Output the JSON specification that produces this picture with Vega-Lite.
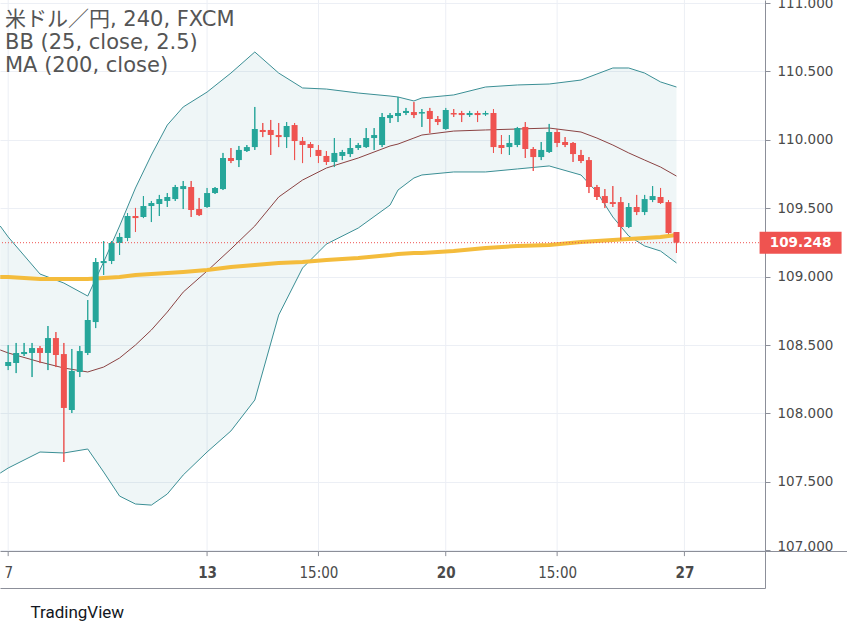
{
  "$schema": "https://vega.github.io/schema/vega-lite/v6.json",
  "width": 765,
  "height": 588,
  "autosize": {"type": "none"},
  "padding": {"left": 0, "top": 0, "right": 82, "bottom": 42},
  "background": "white",
  "title": {
    "text": ["米ドル／円, 240, FXCM", "BB (25, close, 2.5)", "MA (200, close)"],
    "anchor": "start", "frame": "group", "orient": "top",
    "offset": -80, "dx": 5,
    "font": "DejaVu Sans, Noto Sans CJK JP", "fontSize": 21, "fontWeight": "normal",
    "color": "#555555", "lineHeight": 23
  },
  "datasets": {
    "gridx": [{"t": 0}, {"t": 25}, {"t": 39}, {"t": 55}, {"t": 69}, {"t": 85}],
    "last": [{"price": 109.248}],
    "bands": [
      {"i": -1, "upper": 109.370, "mid": 108.464, "lower": 107.564, "ma": 108.997},
      {"i": 0, "upper": 109.290, "mid": 108.442, "lower": 107.601, "ma": 108.997},
      {"i": 4, "upper": 109.019, "mid": 108.376, "lower": 107.718, "ma": 108.983},
      {"i": 7, "upper": 108.953, "mid": 108.332, "lower": 107.711, "ma": 108.983},
      {"i": 10, "upper": 108.858, "mid": 108.303, "lower": 107.740, "ma": 108.983},
      {"i": 12, "upper": 109.107, "mid": 108.339, "lower": 107.572, "ma": 108.990},
      {"i": 14, "upper": 109.370, "mid": 108.405, "lower": 107.396, "ma": 108.997},
      {"i": 16, "upper": 109.648, "mid": 108.500, "lower": 107.338, "ma": 109.012},
      {"i": 18, "upper": 109.889, "mid": 108.610, "lower": 107.330, "ma": 109.019},
      {"i": 20, "upper": 110.108, "mid": 108.741, "lower": 107.411, "ma": 109.026},
      {"i": 22, "upper": 110.240, "mid": 108.887, "lower": 107.550, "ma": 109.034},
      {"i": 25, "upper": 110.349, "mid": 109.041, "lower": 107.718, "ma": 109.048},
      {"i": 28, "upper": 110.488, "mid": 109.202, "lower": 107.872, "ma": 109.070},
      {"i": 31, "upper": 110.642, "mid": 109.370, "lower": 108.098, "ma": 109.085},
      {"i": 34, "upper": 110.488, "mid": 109.582, "lower": 108.719, "ma": 109.100},
      {"i": 37, "upper": 110.379, "mid": 109.706, "lower": 109.063, "ma": 109.107},
      {"i": 40, "upper": 110.371, "mid": 109.794, "lower": 109.238, "ma": 109.121},
      {"i": 44, "upper": 110.342, "mid": 109.867, "lower": 109.355, "ma": 109.136},
      {"i": 48, "upper": 110.320, "mid": 109.955, "lower": 109.523, "ma": 109.158},
      {"i": 49, "upper": 110.313, "mid": 109.969, "lower": 109.633, "ma": 109.165},
      {"i": 51, "upper": 110.284, "mid": 110.013, "lower": 109.721, "ma": 109.173},
      {"i": 52, "upper": 110.306, "mid": 110.035, "lower": 109.743, "ma": 109.173},
      {"i": 56, "upper": 110.328, "mid": 110.064, "lower": 109.765, "ma": 109.187},
      {"i": 60, "upper": 110.386, "mid": 110.072, "lower": 109.765, "ma": 109.209},
      {"i": 64, "upper": 110.401, "mid": 110.079, "lower": 109.787, "ma": 109.224},
      {"i": 68, "upper": 110.408, "mid": 110.086, "lower": 109.809, "ma": 109.231},
      {"i": 72, "upper": 110.437, "mid": 110.057, "lower": 109.743, "ma": 109.253},
      {"i": 74, "upper": 110.481, "mid": 110.013, "lower": 109.618, "ma": 109.260},
      {"i": 76, "upper": 110.525, "mid": 109.962, "lower": 109.436, "ma": 109.268},
      {"i": 78, "upper": 110.525, "mid": 109.904, "lower": 109.297, "ma": 109.275},
      {"i": 80, "upper": 110.488, "mid": 109.852, "lower": 109.224, "ma": 109.282},
      {"i": 82, "upper": 110.423, "mid": 109.801, "lower": 109.187, "ma": 109.290},
      {"i": 84, "upper": 110.386, "mid": 109.735, "lower": 109.100, "ma": 109.304}
    ],
    "candles": [
      {"i": 0, "open": 108.347, "high": 108.500, "low": 108.317, "close": 108.376},
      {"i": 1, "open": 108.368, "high": 108.515, "low": 108.295, "close": 108.442},
      {"i": 2, "open": 108.434, "high": 108.515, "low": 108.420, "close": 108.449},
      {"i": 3, "open": 108.442, "high": 108.515, "low": 108.266, "close": 108.478},
      {"i": 4, "open": 108.478, "high": 108.493, "low": 108.368, "close": 108.442},
      {"i": 5, "open": 108.442, "high": 108.639, "low": 108.317, "close": 108.551},
      {"i": 6, "open": 108.551, "high": 108.595, "low": 108.339, "close": 108.427},
      {"i": 7, "open": 108.434, "high": 108.515, "low": 107.645, "close": 108.040},
      {"i": 8, "open": 108.025, "high": 108.471, "low": 108.003, "close": 108.310},
      {"i": 9, "open": 108.303, "high": 108.493, "low": 108.266, "close": 108.456},
      {"i": 10, "open": 108.442, "high": 108.829, "low": 108.427, "close": 108.683},
      {"i": 11, "open": 108.668, "high": 109.136, "low": 108.624, "close": 109.107},
      {"i": 12, "open": 109.099, "high": 109.260, "low": 109.012, "close": 109.114},
      {"i": 13, "open": 109.114, "high": 109.260, "low": 109.092, "close": 109.246},
      {"i": 14, "open": 109.246, "high": 109.319, "low": 109.158, "close": 109.290},
      {"i": 15, "open": 109.282, "high": 109.465, "low": 109.260, "close": 109.443},
      {"i": 16, "open": 109.443, "high": 109.502, "low": 109.326, "close": 109.428},
      {"i": 17, "open": 109.436, "high": 109.589, "low": 109.428, "close": 109.516},
      {"i": 18, "open": 109.516, "high": 109.553, "low": 109.399, "close": 109.538},
      {"i": 19, "open": 109.531, "high": 109.597, "low": 109.443, "close": 109.567},
      {"i": 20, "open": 109.553, "high": 109.611, "low": 109.509, "close": 109.582},
      {"i": 21, "open": 109.567, "high": 109.670, "low": 109.553, "close": 109.655},
      {"i": 22, "open": 109.640, "high": 109.699, "low": 109.494, "close": 109.662},
      {"i": 23, "open": 109.655, "high": 109.699, "low": 109.436, "close": 109.487},
      {"i": 24, "open": 109.494, "high": 109.575, "low": 109.443, "close": 109.450},
      {"i": 25, "open": 109.509, "high": 109.648, "low": 109.502, "close": 109.611},
      {"i": 26, "open": 109.611, "high": 109.655, "low": 109.604, "close": 109.648},
      {"i": 27, "open": 109.640, "high": 109.904, "low": 109.633, "close": 109.867},
      {"i": 28, "open": 109.867, "high": 109.940, "low": 109.830, "close": 109.845},
      {"i": 29, "open": 109.852, "high": 109.955, "low": 109.801, "close": 109.926},
      {"i": 30, "open": 109.918, "high": 109.962, "low": 109.911, "close": 109.947},
      {"i": 31, "open": 109.947, "high": 110.240, "low": 109.926, "close": 110.079},
      {"i": 32, "open": 110.072, "high": 110.123, "low": 110.020, "close": 110.057},
      {"i": 33, "open": 110.072, "high": 110.145, "low": 109.889, "close": 110.035},
      {"i": 34, "open": 110.035, "high": 110.123, "low": 109.947, "close": 110.020},
      {"i": 35, "open": 110.020, "high": 110.130, "low": 109.940, "close": 110.101},
      {"i": 36, "open": 110.108, "high": 110.123, "low": 109.852, "close": 109.991},
      {"i": 37, "open": 109.991, "high": 110.020, "low": 109.830, "close": 109.962},
      {"i": 38, "open": 109.969, "high": 109.984, "low": 109.874, "close": 109.940},
      {"i": 39, "open": 109.926, "high": 109.962, "low": 109.830, "close": 109.882},
      {"i": 40, "open": 109.882, "high": 109.918, "low": 109.816, "close": 109.838},
      {"i": 41, "open": 109.838, "high": 110.013, "low": 109.801, "close": 109.904},
      {"i": 42, "open": 109.882, "high": 109.926, "low": 109.852, "close": 109.911},
      {"i": 43, "open": 109.896, "high": 110.013, "low": 109.874, "close": 109.940},
      {"i": 44, "open": 109.940, "high": 109.977, "low": 109.926, "close": 109.962},
      {"i": 45, "open": 109.947, "high": 110.086, "low": 109.940, "close": 110.013},
      {"i": 46, "open": 110.013, "high": 110.086, "low": 109.926, "close": 110.035},
      {"i": 47, "open": 109.962, "high": 110.196, "low": 109.947, "close": 110.167},
      {"i": 48, "open": 110.159, "high": 110.196, "low": 110.123, "close": 110.181},
      {"i": 49, "open": 110.174, "high": 110.313, "low": 110.130, "close": 110.196},
      {"i": 50, "open": 110.196, "high": 110.233, "low": 110.181, "close": 110.211},
      {"i": 51, "open": 110.203, "high": 110.276, "low": 110.159, "close": 110.181},
      {"i": 52, "open": 110.192, "high": 110.225, "low": 110.094, "close": 110.203},
      {"i": 53, "open": 110.211, "high": 110.233, "low": 110.050, "close": 110.152},
      {"i": 54, "open": 110.152, "high": 110.174, "low": 110.108, "close": 110.130},
      {"i": 55, "open": 110.079, "high": 110.233, "low": 110.072, "close": 110.218},
      {"i": 56, "open": 110.196, "high": 110.225, "low": 110.167, "close": 110.185},
      {"i": 57, "open": 110.196, "high": 110.211, "low": 110.130, "close": 110.181},
      {"i": 58, "open": 110.181, "high": 110.211, "low": 110.167, "close": 110.196},
      {"i": 59, "open": 110.196, "high": 110.211, "low": 110.130, "close": 110.181},
      {"i": 60, "open": 110.185, "high": 110.211, "low": 110.174, "close": 110.196},
      {"i": 61, "open": 110.196, "high": 110.225, "low": 109.904, "close": 109.947},
      {"i": 62, "open": 109.962, "high": 110.035, "low": 109.896, "close": 109.940},
      {"i": 63, "open": 109.947, "high": 110.035, "low": 109.889, "close": 109.977},
      {"i": 64, "open": 109.962, "high": 110.094, "low": 109.947, "close": 110.086},
      {"i": 65, "open": 110.094, "high": 110.130, "low": 109.867, "close": 109.933},
      {"i": 66, "open": 109.933, "high": 109.947, "low": 109.772, "close": 109.874},
      {"i": 67, "open": 109.874, "high": 109.984, "low": 109.852, "close": 109.926},
      {"i": 68, "open": 109.911, "high": 110.116, "low": 109.904, "close": 110.057},
      {"i": 69, "open": 110.057, "high": 110.079, "low": 109.947, "close": 109.977},
      {"i": 70, "open": 109.984, "high": 110.020, "low": 109.947, "close": 109.962},
      {"i": 71, "open": 109.977, "high": 109.984, "low": 109.838, "close": 109.896},
      {"i": 72, "open": 109.889, "high": 109.926, "low": 109.830, "close": 109.845},
      {"i": 73, "open": 109.852, "high": 109.874, "low": 109.611, "close": 109.655},
      {"i": 74, "open": 109.655, "high": 109.670, "low": 109.560, "close": 109.582},
      {"i": 75, "open": 109.589, "high": 109.640, "low": 109.502, "close": 109.538},
      {"i": 76, "open": 109.545, "high": 109.662, "low": 109.509, "close": 109.531},
      {"i": 77, "open": 109.545, "high": 109.582, "low": 109.268, "close": 109.363},
      {"i": 78, "open": 109.363, "high": 109.538, "low": 109.355, "close": 109.509},
      {"i": 79, "open": 109.509, "high": 109.597, "low": 109.450, "close": 109.472},
      {"i": 80, "open": 109.472, "high": 109.597, "low": 109.450, "close": 109.567},
      {"i": 81, "open": 109.560, "high": 109.662, "low": 109.545, "close": 109.589},
      {"i": 82, "open": 109.582, "high": 109.648, "low": 109.531, "close": 109.538},
      {"i": 83, "open": 109.545, "high": 109.560, "low": 109.311, "close": 109.319},
      {"i": 84, "open": 109.326, "high": 109.326, "low": 109.173, "close": 109.248}
    ]
  },
  "layer": [
    {
      "data": {"name": "candles"},
      "mark": {"type": "rule", "strokeWidth": 1, "clip": true},
      "encoding": {
        "x": {
          "field": "i", "type": "quantitative",
          "scale": {"domain": [-0.4, 94.5], "nice": false, "zero": false},
          "axis": {
            "orient": "bottom", "offset": 0,
            "values": [0, 25, 39, 55, 69, 85],
            "labelExpr": "datum.value == 0 ? '7' : datum.value == 25 ? '13' : datum.value == 55 ? '20' : datum.value == 85 ? '27' : '15:00'",
            "labelFontWeight": {"condition": {"test": "datum.value == 25 || datum.value == 55 || datum.value == 85", "value": "bold"}, "value": "normal"},
            "grid": false, "ticks": false,
            "domainColor": "#8c8f99",
            "labelPadding": -23, "labelFont": "DejaVu Sans Condensed, Roboto Condensed, Roboto",
            "labelFontSize": 15, "labelColor": "#4a4a4a",
            "labelFlush": false, "labelOverlap": false,
            "title": "TradingView", "titleAnchor": "start", "titleAlign": "left",
            "titleX": 30, "titleY": 24, "titleBaseline": "middle",
            "titleFont": "Roboto", "titleFontSize": 17, "titleFontWeight": "normal",
            "titleColor": "#131722"
          }
        },
        "y": {
          "field": "low", "type": "quantitative",
          "scale": {"domain": [106.724, 111.022], "nice": false, "zero": false},
          "axis": {
            "orient": "right",
            "values": [106.994, 107, 107.5, 108, 108.5, 109, 109.5, 110, 110.5, 111],
            "labelExpr": "datum.value < 106.999 ? '' : format(datum.value, '.3f')",
            "labelBaseline": {"condition": {"test": "datum.value == 107", "value": "alphabetic"}, "value": "middle"},
            "grid": true,
            "gridColor": {"condition": {"test": "datum.value < 106.999", "value": "#8c8f99"}, "value": "#eceff5"},
            "tickSize": {"condition": {"test": "datum.value < 106.999", "value": 82}, "value": 5},
            "domainColor": "#8c8f99", "tickColor": "#8c8f99",
            "labelPadding": 7, "labelFont": "DejaVu Sans", "labelFontSize": 13.5,
            "labelColor": "#4a4a4a", "labelFlush": false, "labelOverlap": false,
            "title": null
          }
        },
        "y2": {"field": "high"},
        "color": {"condition": {"test": "datum.close >= datum.open", "value": "#26a69a"}, "value": "#ef5350"}
      }
    },
    {
      "data": {"name": "gridx"},
      "mark": {"type": "rule", "color": "#eceff5", "strokeWidth": 1, "clip": true},
      "encoding": {
        "x": {"field": "t", "type": "quantitative"},
        "y": {"datum": 111.1, "type": "quantitative"},
        "y2": {"datum": 106.994}
      }
    },
    {
      "data": {"name": "gridx"},
      "mark": {"type": "rule", "color": "#8c8f99", "strokeWidth": 1},
      "encoding": {
        "x": {"field": "t", "type": "quantitative"},
        "y": {"datum": 106.994, "type": "quantitative"},
        "y2": {"datum": 106.957}
      }
    },
    {
      "data": {"name": "bands"},
      "mark": {"type": "area", "color": "#2e8b9a", "opacity": 0.08, "clip": true},
      "encoding": {
        "x": {"field": "i", "type": "quantitative"},
        "y": {"field": "upper", "type": "quantitative"},
        "y2": {"field": "lower"}
      }
    },
    {
      "data": {"name": "bands"},
      "mark": {"type": "line", "color": "#3b8f95", "strokeWidth": 1, "clip": true},
      "encoding": {
        "x": {"field": "i", "type": "quantitative"},
        "y": {"field": "upper", "type": "quantitative"}
      }
    },
    {
      "data": {"name": "bands"},
      "mark": {"type": "line", "color": "#3b8f95", "strokeWidth": 1, "clip": true},
      "encoding": {
        "x": {"field": "i", "type": "quantitative"},
        "y": {"field": "lower", "type": "quantitative"}
      }
    },
    {
      "data": {"name": "bands"},
      "mark": {"type": "line", "color": "#8b4343", "strokeWidth": 1, "clip": true},
      "encoding": {
        "x": {"field": "i", "type": "quantitative"},
        "y": {"field": "mid", "type": "quantitative"}
      }
    },
    {
      "data": {"name": "bands"},
      "mark": {"type": "line", "color": "#f4bc3c", "strokeWidth": 4, "clip": true},
      "encoding": {
        "x": {"field": "i", "type": "quantitative"},
        "y": {"field": "ma", "type": "quantitative"}
      }
    },
    {
      "data": {"name": "candles"},
      "mark": {"type": "rule", "strokeWidth": 1, "clip": true},
      "encoding": {
        "x": {"field": "i", "type": "quantitative"},
        "y": {"field": "low", "type": "quantitative"},
        "y2": {"field": "high"},
        "color": {"condition": {"test": "datum.close >= datum.open", "value": "#26a69a"}, "value": "#ef5350"}
      }
    },
    {
      "data": {"name": "candles"},
      "mark": {"type": "bar", "size": 6, "clip": true},
      "encoding": {
        "x": {"field": "i", "type": "quantitative"},
        "y": {"field": "open", "type": "quantitative"},
        "y2": {"field": "close"},
        "color": {"condition": {"test": "datum.close >= datum.open", "value": "#26a69a"}, "value": "#ef5350"}
      }
    },
    {
      "data": {"name": "last"},
      "mark": {"type": "rule", "color": "#ef5350", "strokeWidth": 1, "strokeDash": [1, 2]},
      "encoding": {
        "y": {"field": "price", "type": "quantitative"}
      }
    },
    {
      "data": {"name": "last"},
      "mark": {"type": "tick", "orient": "horizontal", "size": 82, "thickness": 22, "color": "#ef5350", "opacity": 1},
      "encoding": {
        "x": {"datum": 99.6, "type": "quantitative"},
        "y": {"field": "price", "type": "quantitative"}
      }
    },
    {
      "data": {"name": "last"},
      "mark": {"type": "text", "color": "white", "font": "DejaVu Sans", "fontSize": 13.5, "fontWeight": "bold", "align": "center", "baseline": "middle"},
      "encoding": {
        "x": {"datum": 99.6, "type": "quantitative"},
        "y": {"field": "price", "type": "quantitative"},
        "text": {"field": "price", "type": "quantitative", "format": ".3f"}
      }
    }
  ],
  "config": {"view": {"stroke": null}}
}
